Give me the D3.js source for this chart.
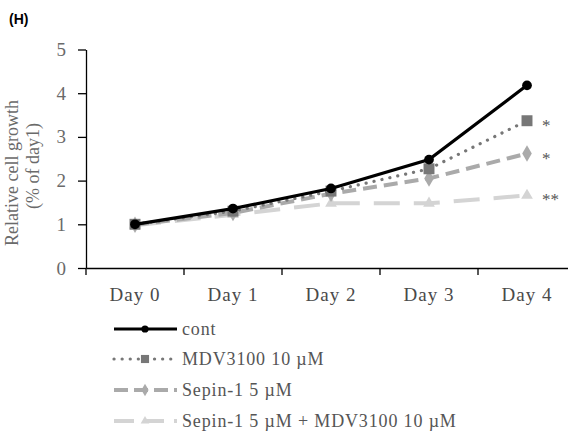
<!DOCTYPE html>
<html>
<head>
<meta charset="utf-8">
<script src="https://cdn.jsdelivr.net/npm/d3@7"></script>
<style>
  body { margin: 0; background: #fff; }
  svg { display: block; }
</style>
</head>
<body>
<div id="chart-area"></div>
<script>
// data
var days = ["Day 0", "Day 1", "Day 2", "Day 3", "Day 4"];
var cont = [1.0, 1.36, 1.82, 2.48, 4.18];
var mdv = [1.0, 1.3, 1.76, 2.27, 3.37];
var sepin = [0.99, 1.26, 1.7, 2.05, 2.62];
var combo = [0.98, 1.22, 1.48, 1.48, 1.66];
var yTicks = [0, 1, 2, 3, 4, 5];
var seriesNames = ["cont", "MDV3100 10 \u00b5M", "Sepin-1 5 \u00b5M", "Sepin-1 5 \u00b5M + MDV3100 10 \u00b5M"];
var stars = [null, "*", "*", "**"];

var W = 568, H = 434;
var serif = "Liberation Serif, Times New Roman, serif";
var svg = d3.select("#chart-area").append("svg")
    .attr("width", W)
    .attr("height", H);

var x = d3.scaleBand()
    .domain(days)
    .range([86, 576]);

var y = d3.scaleLinear()
    .domain([0, 5])
    .range([268, 49.5]);

var series = [
    {name: seriesNames[0], values: cont, color: "#000000", width: 3.2, dash: null, sym: d3.symbolCircle, size: 75},
    {name: seriesNames[1], values: mdv, color: "#777777", width: 3.2, dash: "0.1,8", sym: d3.symbolSquare, size: 120},
    {name: seriesNames[2], values: sepin, color: "#aaaaaa", width: 4, dash: "14,7", sym: d3.symbolDiamond, size: 80},
    {name: seriesNames[3], values: combo, color: "#d4d4d4", width: 4, dash: "26,14", sym: d3.symbolTriangle, size: 60}
];

// title
svg.append("text")
    .attr("x", 9).attr("y", 24)
    .style("font-family", "Liberation Sans, Arial")
    .style("font-weight", "bold")
    .style("font-size", "14px")
    .text("(H)");

// y axis
var yAxis = svg.append("g")
    .attr("transform", "translate(86,0)")
    .call(d3.axisLeft(y).tickValues(yTicks).tickFormat(d3.format("d")).tickSize(8).tickSizeOuter(0));
yAxis.select(".domain").attr("stroke", "#000").attr("stroke-width", 1.3);
yAxis.selectAll(".tick line").attr("stroke", "#000").attr("stroke-width", 1.3);
yAxis.selectAll(".tick text")
    .attr("x", -20)
    .style("font-family", serif)
    .style("font-size", "19px")
    .attr("fill", "#6a6a6a");

// x axis
var xAxis = svg.append("g")
    .attr("transform", "translate(0,268)")
    .call(d3.axisBottom(x).tickSize(0).tickSizeOuter(0));
xAxis.select(".domain").attr("stroke", "#000").attr("stroke-width", 1.3);
xAxis.selectAll(".tick text")
    .attr("y", 20)
    .style("font-family", serif)
    .style("font-size", "19px")
    .style("letter-spacing", "1px")
    .attr("fill", "#4a4a4a");
// tick marks between categories
svg.selectAll(".xsep")
    .data(days)
    .enter().append("line")
    .attr("x1", (d) => x(d)).attr("x2", (d) => x(d))
    .attr("y1", 268).attr("y2", 275)
    .attr("stroke", "#000").attr("stroke-width", 1.3);

// y label
svg.append("text")
    .attr("transform", "translate(18,173) rotate(-90)")
    .attr("text-anchor", "middle")
    .style("font-family", serif)
    .style("font-size", "18px")
    .attr("fill", "#6a6a6a")
    .text("Relative cell growth");
svg.append("text")
    .attr("transform", "translate(39,166) rotate(-90)")
    .attr("text-anchor", "middle")
    .style("font-family", serif)
    .style("font-size", "18px")
    .attr("fill", "#6a6a6a")
    .text("(% of day1)");

var cx = (i) => x(days[i]) + x.bandwidth() / 2;
var line = d3.line()
    .x((d, i) => cx(i))
    .y((d) => y(d));

// draw back to front
series.slice().reverse().forEach((s) => {
    svg.append("path")
        .datum(s.values)
        .attr("d", line)
        .attr("fill", "none")
        .attr("stroke", s.color)
        .attr("stroke-width", s.width)
        .attr("stroke-linecap", s.dash === "0.1,8" ? "round" : "butt")
        .attr("stroke-dasharray", s.dash);
    svg.selectAll(null)
        .data(s.values)
        .enter().append("path")
        .attr("transform", (d, i) => "translate(" + cx(i) + "," + y(d) + ")")
        .attr("d", d3.symbol().type(s.sym).size(s.size))
        .attr("fill", s.color);
});

// significance marks
series.forEach((s, k) => {
    if (!stars[k]) return;
    svg.append("text")
        .attr("x", cx(4) + 15)
        .attr("y", y(s.values[4]) + 10)
        .style("font-family", serif)
        .style("font-size", "17px")
        .attr("fill", "#555")
        .text(stars[k]);
});

// legend
var legY = [329, 359, 390, 421];
var legDash = [null, "0.1,8", "14,6", "20,10"];
series.forEach((s, k) => {
    var g = svg.append("g").attr("transform", "translate(0," + legY[k] + ")");
    g.append("line")
        .attr("x1", 114).attr("x2", 177)
        .attr("stroke", s.color)
        .attr("stroke-width", s.width)
        .attr("stroke-linecap", k === 1 ? "round" : "butt")
        .attr("stroke-dasharray", legDash[k]);
    g.append("path")
        .attr("transform", "translate(145,0)")
        .attr("d", d3.symbol().type(s.sym).size(s.size * 0.55))
        .attr("fill", s.color);
    g.append("text")
        .attr("x", 182).attr("y", 6)
        .style("font-family", serif)
        .style("font-size", "18px")
        .style("letter-spacing", "0.85px")
        .attr("fill", "#555")
        .text(s.name);
});
</script>
</body>
</html>
